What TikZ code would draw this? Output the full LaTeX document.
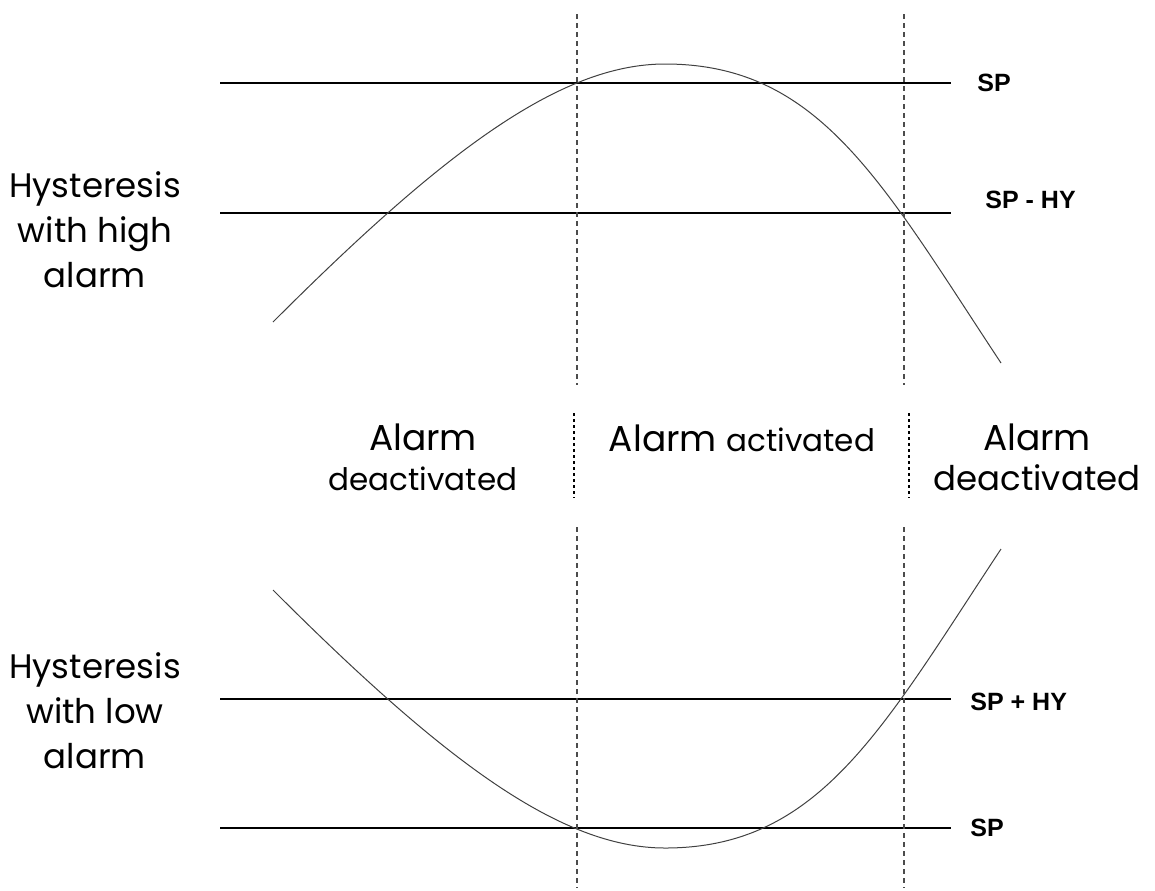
\documentclass[tikz,border=0pt]{standalone}
\usepackage{fontspec}
\setmainfont{Poppins}
\newfontfamily\spfont{Liberation Sans}
\begin{document}
\begin{tikzpicture}[
    x=0.5pt, y=-0.5pt,
    level/.style={black, line width=0.65pt},
    signal/.style={black!75, line width=0.5pt},
    border/.style={black!70, line width=0.6pt, dash pattern=on 2.5pt off 2pt},
    zone/.style={black, line width=1pt, dash pattern=on 1.5pt off 1.5pt},
    splabel/.style={anchor=west, inner sep=0pt, font=\spfont\bfseries\fontsize{12.5}{14}\selectfont},
    caption/.style={align=center, inner sep=0pt, anchor=base, font=\fontsize{17}{22.5}\selectfont},
    zonetext/.style={align=center, inner sep=0pt, anchor=base, font=\fontsize{18}{20}\selectfont}
]
    \useasboundingbox (0,0) rectangle (1155,890);

    %high alarm
    \draw[level] (220,83) -- (951,83);
    \draw[level] (220,213) -- (951,213);
    \draw[signal] (273,322) .. controls (443,152) and (560,64) .. (665,64)
        .. controls (820,64) and (882,183) .. (1001,363);
    \node[splabel] (sphigh) at (977,83) {SP};
    \node[splabel] (sphyhigh) at (985,200) {SP - HY};
    \node[caption] (high) at (95,287) {Hysteresis\\with high\\alarm};

    %low alarm
    \draw[level] (220,699) -- (951,699);
    \draw[level] (220,828) -- (951,828);
    \draw[signal] (273,590) .. controls (443,760) and (560,848) .. (665,848)
        .. controls (820,848) and (882,729) .. (1001,549);
    \node[splabel] (sphylow) at (970,702) {SP + HY};
    \node[splabel] (splow) at (970,828) {SP};
    \node[caption] (low) at (95,768) {Hysteresis\\with low\\alarm};

    %limits
    \foreach \x in {577,904}{
        \draw[border] (\x,14) -- (\x,385);
        \draw[border] (\x,527) -- (\x,888);
    }
    \draw[zone] (574,413) -- (574,498);
    \draw[zone] (909,413) -- (909,498);

    %states
    \node[zonetext] (offleft) at (423,490) {Alarm\\{\fontsize{15.5}{20}\selectfont deactivated}};
    \node[zonetext] (on) at (742,451) {Alarm {\fontsize{15.5}{20}\selectfont activated}};
    \node[zonetext] (offright) at (1037,490) {Alarm\\{\fontsize{17}{20}\selectfont deactivated}};
\end{tikzpicture}
\end{document}
